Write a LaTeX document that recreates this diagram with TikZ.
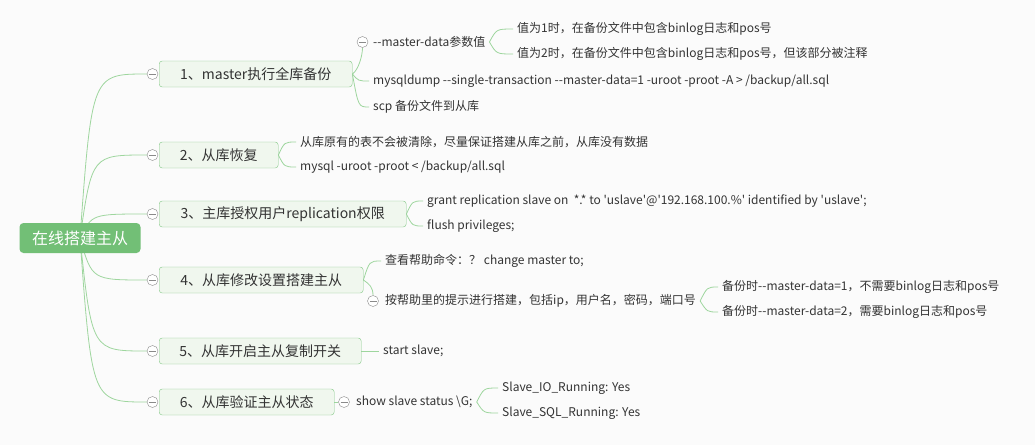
\documentclass[tikz,border=0pt]{standalone}
\usepackage{fontspec}
\newfontfamily\zh{Noto Sans CJK SC}
\usetikzlibrary{positioning,calc,backgrounds}
\definecolor{bg}{HTML}{FBFBFB}
\definecolor{rootg}{HTML}{72BF76}
\definecolor{boxg}{HTML}{82C785}
\definecolor{boxf}{HTML}{F0F7EE}
\definecolor{lineg}{HTML}{9ED69E}
\definecolor{txt}{HTML}{333333}
\definecolor{fld}{HTML}{8A8A8A}
\tikzset{
  rootbox/.style={fill=rootg, rounded corners=4pt, text=white, minimum width=121pt, minimum height=30pt, font=\zh\fontsize{16}{18}\selectfont},
  topic/.style={draw=boxg, fill=boxf, rounded corners=3pt, minimum height=26pt, anchor=west, text=txt, font=\zh\fontsize{14}{16}\selectfont},
  leaf/.style={anchor=west, inner xsep=4pt, inner ysep=2pt, text=txt, font=\zh\fontsize{12}{14}\selectfont},
  fold/.style={circle, draw=fld, fill=white, minimum size=11pt, inner sep=0pt,
    path picture={\draw[fld] ([xshift=-3.5pt]path picture bounding box.center) -- ([xshift=3.5pt]path picture bounding box.center);}},
  link/.style={draw=lineg, line width=0.8pt}}

\begin{document}
\begin{tikzpicture}[x=1pt, y=-1pt]
\useasboundingbox (0,0) rectangle (1035,445);
% root and main topics
\node[rootbox] (root) at (80,238) {在线搭建主从};
\node[topic, minimum width=193pt] (t1) at (159,74) {1、master执行全库备份};
\node[topic, minimum width=119pt] (t2) at (159,155) {2、从库恢复};
\node[topic, minimum width=247pt] (t3) at (159,214) {3、主库授权用户replication权限};
\node[topic, minimum width=204pt] (t4) at (159,280) {4、从库修改设置搭建主从};
\node[topic, minimum width=202pt] (t5) at (159,351) {5、从库开启主从复制开关};
\node[topic, minimum width=175pt] (t6) at (159,402) {6、从库验证主从状态};
\foreach \i/\y in {1/74,2/155,3/214,4/280,5/351,6/402}
  \node[fold] (f\i) at (152.5,\y) {};
\coordinate (rc) at (92,238);
% 1
\node[fold] (f11) at (362.5,42) {};
\node[leaf] (l11) at (369,42) {--master-data参数值};
\node[leaf] (l12) at (369,81) {mysqldump --single-transaction --master-data=1 -uroot -proot -A > /backup/all.sql};
\node[leaf] (l13) at (369,107) {scp 备份文件到从库};
\node[leaf] (l111) at (513,29) {值为1时，在备份文件中包含binlog日志和pos号};
\node[leaf] (l112) at (513,54) {值为2时，在备份文件中包含binlog日志和pos号，但该部分被注释};
\coordinate (k1) at ([xshift=6pt]t1.east);
\coordinate (k11) at ([xshift=7pt]l11.east);
% 2
\node[leaf] (l21) at (296,142) {从库原有的表不会被清除，尽量保证搭建从库之前，从库没有数据};
\node[leaf] (l22) at (296,167) {mysql -uroot -proot < /backup/all.sql};
\coordinate (k2) at ([xshift=6pt]t2.east);
% 3
\node[leaf] (l31) at (423,201) {grant replication slave on\ \ *.* to 'uslave'@'192.168.100.\%' identified by 'uslave';};
\node[leaf] (l32) at (423,226) {flush privileges;};
\coordinate (k3) at ([xshift=6pt]t3.east);
% 4
\node[leaf] (l41) at (381,261) {查看帮助命令：？ change master to;};
\node[fold] (f42) at (373,301) {};
\node[leaf] (l42) at (381,301) {按帮助里的提示进行搭建，包括ip，用户名，密码，端口号};
\node[leaf] (l421) at (718,287) {备份时--master-data=1，不需要binlog日志和pos号};
\node[leaf] (l422) at (718,312) {备份时--master-data=2，需要binlog日志和pos号};
\coordinate (k4) at ([xshift=6pt]t4.east);
\coordinate (k42) at ([xshift=7pt]l42.east);
% 5
\node[leaf] (l51) at (379,351) {start slave;};
% 6
\node[fold] (f61) at (344,402) {};
\node[leaf] (l61) at (352,402) {show slave status \textbackslash G;};
\node[leaf] (l611) at (498,388) {Slave\_IO\_Running: Yes};
\node[leaf] (l612) at (498,413) {Slave\_SQL\_Running: Yes};
\coordinate (k61) at ([xshift=7pt]l61.east);

\begin{pgfonlayer}{background}
\fill[bg] (0,0) rectangle (1035,445);
\foreach \i in {1,...,6}
  \draw[link] (root.center) .. controls (rc |- f\i) .. (f\i);
\draw[link] (t1.east) .. controls +(6,-4) and +(0,8) .. (f11.south);
\foreach \c in {l12,l13}
  \draw[link] (t1.east) .. controls (k1 |- \c) .. (\c.west);
\foreach \c in {l111,l112}
  \draw[link] (l11.east) .. controls (k11 |- \c) .. (\c.west);
\foreach \c in {l21,l22}
  \draw[link] (t2.east) .. controls (k2 |- \c) .. (\c.west);
\foreach \c in {l31,l32}
  \draw[link] (t3.east) .. controls (k3 |- \c) .. (\c.west);
\draw[link] (t4.east) .. controls (k4 |- l41) .. (l41.west);
\draw[link] (t4.east) .. controls +(6,4) and +(0,-8) .. (f42.north);
\foreach \c in {l421,l422}
  \draw[link] (l42.east) .. controls (k42 |- \c) .. (\c.west);
\draw[link] (t5.east) -- (l51.west);
\draw[link] (t6.east) -- (f61);
\foreach \c in {l611,l612}
  \draw[link] (l61.east) .. controls (k61 |- \c) .. (\c.west);
\end{pgfonlayer}
\end{tikzpicture}
\end{document}
